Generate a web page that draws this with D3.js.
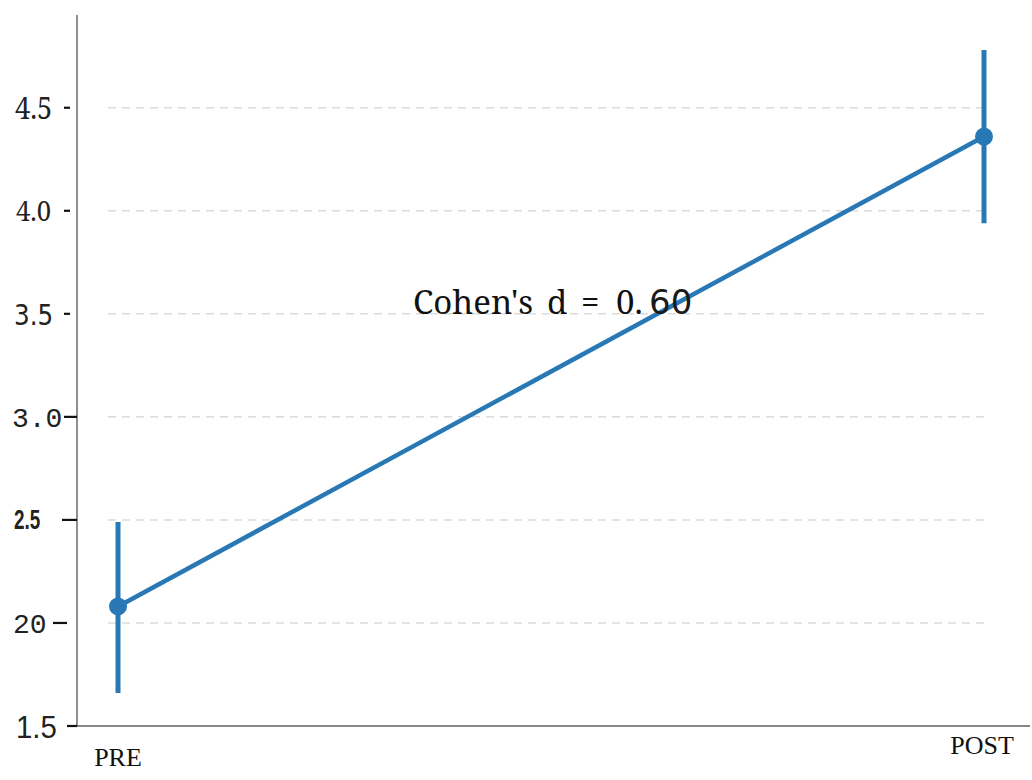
<!DOCTYPE html>
<html>
<head>
<meta charset="utf-8">
<script src="https://cdn.jsdelivr.net/npm/d3@7"></script>
<style>
  html, body { margin: 0; padding: 0; background: #fff; }
  svg { display: block; }
</style>
</head>
<body>
<svg id="chart" width="1032" height="780"></svg>
<script>
// Pre/post means with error bars
const phases = ["PRE", "POST"];
const means = [2.08, 4.36];
const lowers = [1.66, 3.94];
const uppers = [2.49, 4.78];
const tickValues = [1.5, 2.0, 2.5, 3.0, 3.5, 4.0, 4.5];
const tickLabels = ["1.5", "20", "2.5", "3.0", "3.5", "4.0", "4.5"];
const effectParts = ["Cohen's", "d", "=", "0.", "60"];

const svg = d3.select("#chart");
const axisLeft = 77, axisBottom = 726, axisTop = 15, axisRight = 1030;

const x = d3.scalePoint().domain(phases).range([118, 984]);
const y = d3.scaleLinear().domain([1.5, 4.95]).range([axisBottom, axisTop]);
const blue = "#2878b5";

// dashed horizontal guides
svg.append("g").selectAll("line")
  .data(tickValues.filter(v => v > 1.5))
  .join("line")
  .attr("x1", 108).attr("x2", 990)
  .attr("y1", d => y(d)).attr("y2", d => y(d))
  .attr("stroke", "#dcdcdc").attr("stroke-width", 1.5)
  .attr("stroke-dasharray", "8,6");

// axis lines
svg.append("line").attr("x1", axisLeft).attr("x2", axisLeft).attr("y1", axisTop).attr("y2", axisBottom)
  .attr("stroke", "#444").attr("stroke-width", 1.2);
svg.append("line").attr("x1", 67).attr("x2", axisRight).attr("y1", axisBottom).attr("y2", axisBottom)
  .attr("stroke", "#111").attr("stroke-width", 1.2);

// each tick label comes out in its own typeface
const tickStyle = {
  "1.5": {font: "'Liberation Sans Narrow', 'Liberation Sans'", size: 32, weight: 400, x: 16, dy: 12, tx1: 67, tx2: 77, stretch: 0.92},
  "20":  {font: "'Liberation Mono', monospace", size: 28, weight: 300, x: 13, dy: 10, tx1: 53, tx2: 67, stretch: 1.0},
  "2.5": {font: "'Liberation Sans Narrow', 'Liberation Sans'", size: 27, weight: 700, x: 14, dy: 9, tx1: 62, tx2: 77, stretch: 0.7},
  "3.0": {font: "'Liberation Mono', monospace", size: 28, weight: 300, x: 12, dy: 10, tx1: 64, tx2: 77, stretch: 1.0},
  "3.5": {font: "'DejaVu Sans'", size: 29, weight: 400, x: 14, dy: 11, tx1: 64, tx2: 70, stretch: 0.85},
  "4.0": {font: "'Noto Serif', 'DejaVu Serif'", size: 27, weight: 400, x: 16, dy: 10, tx1: 64, tx2: 70, stretch: 0.95},
  "4.5": {font: "'Noto Serif', 'DejaVu Serif'", size: 31, weight: 400, x: 15, dy: 11, tx1: 64, tx2: 70, stretch: 0.88}
};

const ticks = svg.append("g");
tickValues.forEach((v, i) => {
  const s = tickStyle[tickLabels[i]];
  ticks.append("line")
    .attr("x1", s.tx1).attr("x2", s.tx2)
    .attr("y1", y(v)).attr("y2", y(v))
    .attr("stroke", "#111").attr("stroke-width", 2.2);
  ticks.append("text")
    .attr("transform", `translate(${s.x},${y(v) + s.dy}) scale(${s.stretch},1)`)
    .attr("font-family", s.font).attr("font-size", s.size).attr("font-weight", s.weight)
    .attr("fill", "#222")
    .text(tickLabels[i]);
});

// phase labels
svg.append("text").attr("x", x("PRE")).attr("y", 766).attr("text-anchor", "middle")
  .attr("font-family", "'Liberation Serif', serif").attr("font-size", 26).attr("fill", "#111")
  .text(phases[0]);
svg.append("text").attr("x", x("POST") - 2).attr("y", 754).attr("text-anchor", "middle")
  .attr("font-family", "'Liberation Serif', serif").attr("font-size", 26).attr("fill", "#111")
  .text(phases[1]);

// connecting line between means
svg.append("path")
  .datum(phases.map((p, i) => [x(p), y(means[i])]))
  .attr("d", d3.line())
  .attr("fill", "none").attr("stroke", blue).attr("stroke-width", 4.5);

// error bars
svg.append("g").selectAll("line")
  .data(phases)
  .join("line")
  .attr("x1", d => x(d)).attr("x2", d => x(d))
  .attr("y1", (d, i) => y(uppers[i])).attr("y2", (d, i) => y(lowers[i]))
  .attr("stroke", blue).attr("stroke-width", 5);

// mean markers
svg.append("g").selectAll("circle")
  .data(phases)
  .join("circle")
  .attr("cx", d => x(d)).attr("cy", (d, i) => y(means[i]))
  .attr("r", 9).attr("fill", blue);

// effect size annotation, set word by word with wide spacing
const annX = [413, 547, 581, 616, 649];
const annFont = ["serif", "serif", "serif", "serif", "sans"];
const ann = svg.append("g");
effectParts.forEach((t, i) => {
  ann.append("text")
    .attr("x", annX[i]).attr("y", 314)
    .attr("font-family", annFont[i] === "serif" ? "'Noto Serif', 'DejaVu Serif', serif" : "'DejaVu Sans', sans-serif")
    .attr("font-size", annFont[i] === "serif" ? 33 : 34)
    .attr("fill", annFont[i] === "serif" ? "#111" : "#1a1a1a")
    .text(t);
});
</script>
</body>
</html>
